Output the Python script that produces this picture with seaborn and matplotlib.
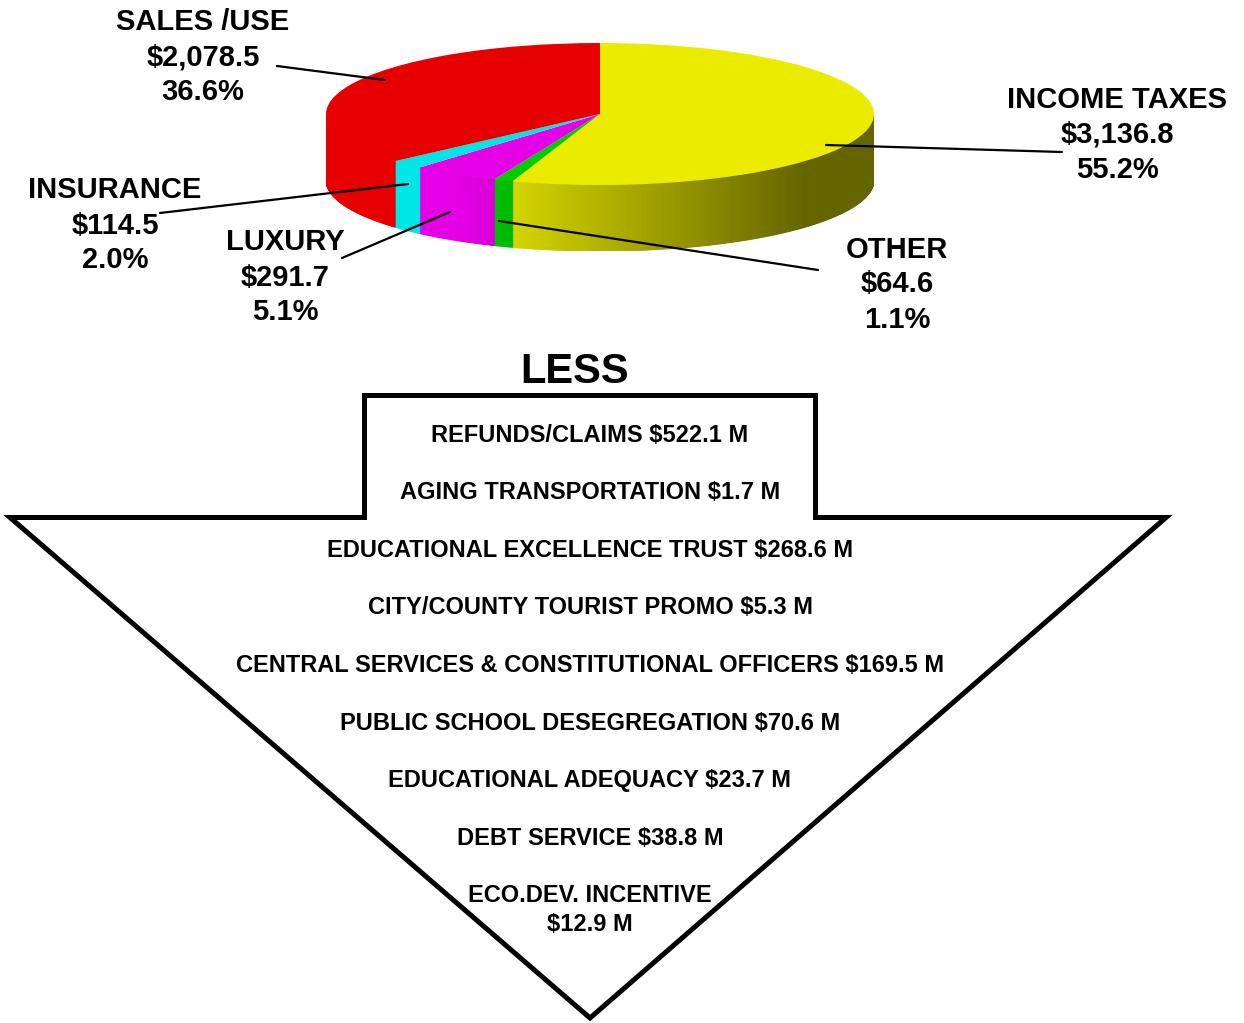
import numpy as np
import matplotlib
matplotlib.use("Agg")
import matplotlib.pyplot as plt
import matplotlib.colors as mcolors
from matplotlib.patches import Polygon
import seaborn as sns

# revenue sources, clockwise from 12 o'clock ($ millions)
sources = ["INCOME TAXES", "OTHER", "LUXURY", "INSURANCE", "SALES /USE"]
amounts = [3136.8, 64.6, 291.7, 114.5, 2078.5]
pie_colors = ["#EBEB00", "#00CC00", "#E600E6", "#00E6E6", "#E60000"]

# deductions shown in the arrow ($ millions)
less_items = ["REFUNDS/CLAIMS", "AGING TRANSPORTATION", "EDUCATIONAL EXCELLENCE TRUST",
              "CITY/COUNTY TOURIST PROMO", "CENTRAL SERVICES & CONSTITUTIONAL OFFICERS",
              "PUBLIC SCHOOL DESEGREGATION", "EDUCATIONAL ADEQUACY", "DEBT SERVICE",
              "ECO.DEV. INCENTIVE"]
less_amounts = [522.1, 1.7, 268.6, 5.3, 169.5, 70.6, 23.7, 38.8, 12.9]

sns.set_theme(style="white")
plt.rcParams["font.family"] = ["Liberation Sans", "DejaVu Sans"]
plt.rcParams["font.weight"] = "bold"
plt.rcParams["text.color"] = "black"

W, H = 1244, 1023
fig = plt.figure(figsize=(W / 100, H / 100), dpi=100)
fig.patch.set_facecolor("white")

# overlay axes in pixel coordinates (text, leaders, arrow)
ax = fig.add_axes([0, 0, 1, 1])
ax.set_xlim(0, W)
ax.set_ylim(H, 0)
ax.axis("off")
ax.set_zorder(2)

# --- 3D-looking pie ---
cx, cy, rx, ry, depth = 600, 114, 274, 71, 66
pax = fig.add_axes([(cx - rx) / W, 1 - (cy + ry + depth) / H, 2 * rx / W, (2 * ry + depth) / H])
pax.set_zorder(1)
wedges, _ = pax.pie(amounts, colors=pie_colors, startangle=90, counterclock=False,
                    radius=1, wedgeprops=dict(linewidth=0, zorder=3))
d = depth / ry


def shade(x):
    # side wall gets darker towards the right
    return np.clip(0.9 - 0.45 * (x + 0.3), 0.43, 1.0)


for w, col in zip(wedges, pie_colors):
    base = np.array(mcolors.to_rgb(col))
    n = max(int((w.theta2 - w.theta1) / 0.5), 2)
    ts = np.radians(np.linspace(w.theta1, w.theta2, n + 1))
    for t0, t1 in zip(ts[:-1], ts[1:]):
        if np.sin((t0 + t1) / 2) >= 0:
            continue
        xs = [np.cos(t0), np.cos(t1), np.cos(t1), np.cos(t0)]
        ys = [np.sin(t0), np.sin(t1), np.sin(t1) - d, np.sin(t0) - d]
        c = base * shade((xs[0] + xs[1]) / 2)
        pax.fill(xs, ys, color=c, lw=0.8, zorder=1)

pax.set_xlim(-1, 1)
pax.set_ylim(-1 - d, 1)
pax.set_aspect("auto")
pax.axis("off")

# --- pie labels ---
total = sum(amounts)
label_pos = {
    "INCOME TAXES": (1117, 97, (826, 145), (1062, 152)),
    "OTHER": (897, 247, (499, 221), (818, 270)),
    "LUXURY": (285, 240, (342, 258), (450, 212)),
    "INSURANCE": (115, 188, (160, 213), (408, 184)),
    "SALES /USE": (203, 20, (277, 66), (385, 80)),
}
for name, amt in zip(sources, amounts):
    x, y, p0, p1 = label_pos[name]
    lines = [name, f"${amt:,.1f}", f"{amt / total * 100:.1f}%"]
    for i, s in enumerate(lines):
        ax.text(x, y + 35 * i + 10.5, s, ha="center", va="baseline",
                fontsize=21, fontweight="bold", color="black")
    ax.plot([p0[0], p1[0]], [p0[1], p1[1]], color="black", lw=1.6)

# --- LESS arrow ---
ax.text(575, 368 + 15, "LESS", ha="center", va="baseline", fontsize=30,
        fontweight="bold", color="black")
arrow = Polygon([(364.5, 395.5), (815.5, 395.5), (815.5, 517.5), (1166, 517.5),
                 (590, 1018), (10, 517.5), (364.5, 517.5)],
                closed=True, facecolor="white", edgecolor="black", lw=3.6, joinstyle="miter")
ax.add_patch(arrow)

y0, dy = 433, 57.6
for i, (name, amt) in enumerate(zip(less_items, less_amounts)):
    sep = "\n" if name.startswith("ECO") else " "
    parts = f"{name}{sep}${amt:g} M".split("\n")
    for j, s in enumerate(parts):
        ax.text(590, y0 + dy * i + 29 * j + 8.5, s, ha="center", va="baseline",
                fontsize=17, fontweight="bold", color="black")

fig.savefig("out.png", dpi=100)
